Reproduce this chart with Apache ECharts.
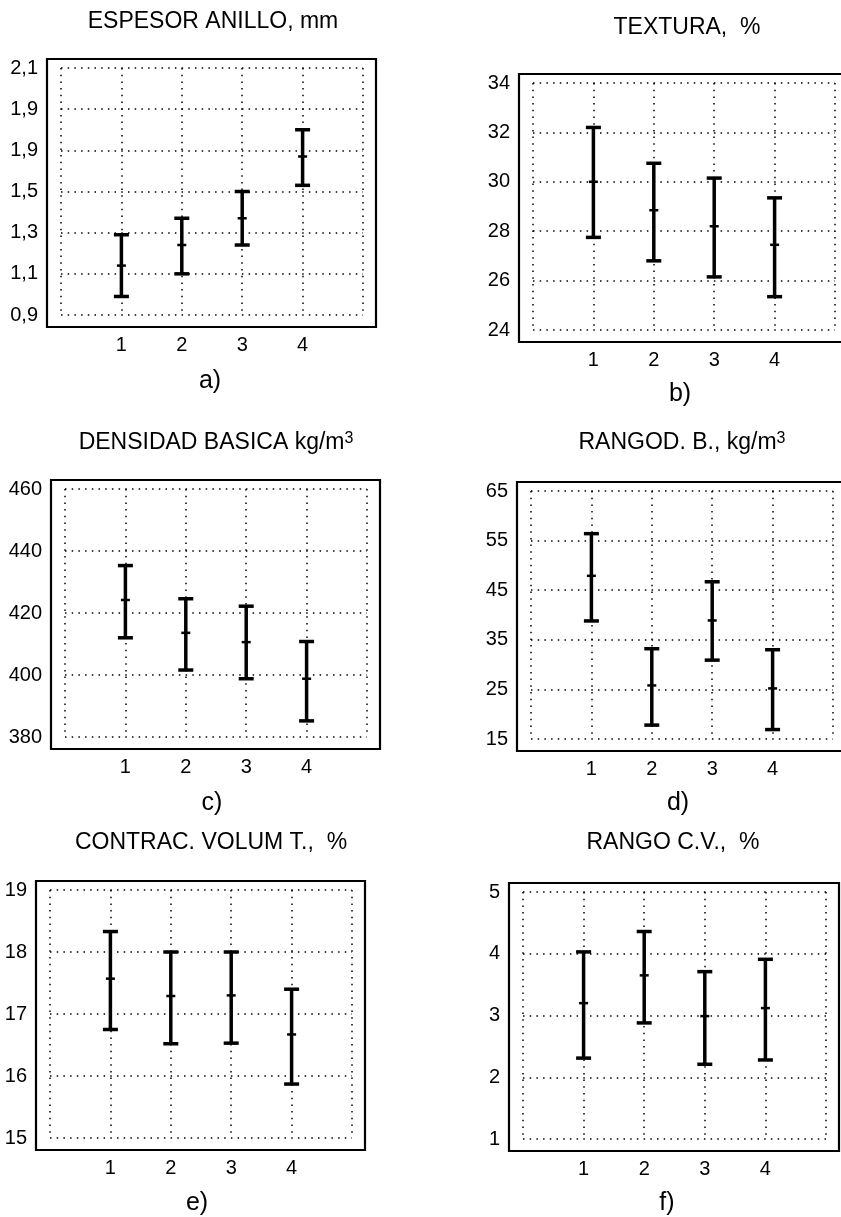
<!DOCTYPE html>
<html>
<head>
<meta charset="utf-8">
<title>Anillos y densidad</title>
<script src="https://cdn.jsdelivr.net/npm/echarts@6/dist/echarts.min.js"></script>
<style>
  html, body { margin: 0; padding: 0; background: #fff; }
  #chart { width: 841px; height: 1217px; }
</style>
</head>
<body>
<div id="chart"></div>
<script>
// categorias (eje x) y etiquetas
const categories = [1, 2, 3, 4]
const xLabels = ['1', '2', '3', '4']

// a) espesor anillo, mm  (limite inferior, media, limite superior)
const espesorLow = [0.99, 1.10, 1.24, 1.53]
const espesorMean = [1.14, 1.24, 1.37, 1.67]
const espesorHigh = [1.29, 1.37, 1.50, 1.80]
const espesorTicks = ['0,9', '1,1', '1,3', '1,5', '1,9', '1,9', '2,1'] // tal cual impreso

// b) textura, %
const texturaLow = [27.75, 26.8, 26.15, 25.35]
const texturaMean = [30.0, 28.85, 28.2, 27.45]
const texturaHigh = [32.2, 30.75, 30.15, 29.35]
const texturaTicks = ['24', '26', '28', '30', '32', '34']

// c) densidad basica kg/m3
const densidadLow = [412.0, 401.6, 398.8, 385.2]
const densidadMean = [424.2, 413.6, 410.6, 398.8]
const densidadHigh = [435.3, 424.6, 422.2, 410.8]
const densidadTicks = ['380', '400', '420', '440', '460']

// d) rango densidad basica kg/m3
const rangoDLow = [38.8, 17.8, 30.9, 16.9]
const rangoDMean = [47.9, 25.8, 38.9, 25.2]
const rangoDHigh = [56.4, 33.2, 46.7, 33.0]
const rangoDTicks = ['15', '25', '35', '45', '55', '65']

// e) contraccion volumetrica total, %
const contracLow = [16.75, 16.52, 16.53, 15.87]
const contracMean = [17.57, 17.29, 17.30, 16.67]
const contracHigh = [18.33, 18.0, 18.0, 17.40]
const contracTicks = ['15', '16', '17', '18', '19']

// f) rango contraccion volumetrica, %
const rangoCVLow = [2.31, 2.88, 2.21, 2.28]
const rangoCVMean = [3.20, 3.65, 2.99, 3.12]
const rangoCVHigh = [4.03, 4.36, 3.71, 3.91]
const rangoCVTicks = ['1', '2', '3', '4', '5']

const FONT = '"Liberation Sans", Arial, Helvetica, sans-serif'

const panels = [
  { title: 'ESPESOR ANILLO, mm', sub: 'a)', low: espesorLow, mean: espesorMean, high: espesorHigh,
    ticks: espesorTicks, min: 0.9, interval: 0.2 },
  { title: 'TEXTURA,  %', sub: 'b)', low: texturaLow, mean: texturaMean, high: texturaHigh,
    ticks: texturaTicks, min: 24, interval: 2 },
  { title: 'DENSIDAD BASICA kg/m{sup|3}', sub: 'c)', low: densidadLow, mean: densidadMean, high: densidadHigh,
    ticks: densidadTicks, min: 380, interval: 20 },
  { title: 'RANGOD. B., kg/m{sup|3}', sub: 'd)', low: rangoDLow, mean: rangoDMean, high: rangoDHigh,
    ticks: rangoDTicks, min: 15, interval: 10 },
  { title: 'CONTRAC. VOLUM T.,  %', sub: 'e)', low: contracLow, mean: contracMean, high: contracHigh,
    ticks: contracTicks, min: 15, interval: 1 },
  { title: 'RANGO C.V.,  %', sub: 'f)', low: rangoCVLow, mean: rangoCVMean, high: rangoCVHigh,
    ticks: rangoCVTicks, min: 1, interval: 1 },
]

// posicion de cada grafico: area de datos, titulo y letra
const layout = [
  { grid: [61, 68, 302, 247], title: [213, 22], sub: [210, 381] },
  { grid: [533, 83, 302, 247], title: [687, 28], sub: [680, 394] },
  { grid: [65, 489, 302, 248], title: [216, 443], sub: [212, 803] },
  { grid: [531, 491, 302, 248], title: [682, 443], sub: [678, 803] },
  { grid: [50, 890, 302, 248], title: [211, 843], sub: [197, 1203] },
  { grid: [523, 892, 303, 247], title: [673, 843], sub: [667, 1203] },
]
// el marco sobresale de la zona de datos
const pad = { t: 9, r: 13, b: 12, l: 14 }

function errorBar(params, api) {
  const x = api.value(0)
  const lo = api.coord([x, api.value(1)])
  const mid = api.coord([x, api.value(2)])
  const hi = api.coord([x, api.value(3)])
  const st = { stroke: '#000', lineWidth: 3.5 }
  return {
    type: 'group',
    children: [
      { type: 'line', shape: { x1: lo[0], y1: lo[1], x2: hi[0], y2: hi[1] }, style: st },
      { type: 'line', shape: { x1: hi[0] - 7.5, y1: hi[1], x2: hi[0] + 7.5, y2: hi[1] }, style: st },
      { type: 'line', shape: { x1: lo[0] - 7.5, y1: lo[1], x2: lo[0] + 7.5, y2: lo[1] }, style: st },
      { type: 'line', shape: { x1: mid[0] - 4.5, y1: mid[1], x2: mid[0] + 4.5, y2: mid[1] },
        style: { stroke: '#000', lineWidth: 2.5 } },
    ],
  }
}

const gridLine = { show: true, lineStyle: { color: '#000', width: 1.5, type: [1.5, 5.2] } }

const grids = [], xAxes = [], yAxes = [], series = [], graphics = []
panels.forEach((p, i) => {
  const g = layout[i].grid
  grids.push({ left: g[0], top: g[1], width: g[2], height: g[3] })
  xAxes.push({
    gridIndex: i, type: 'value', min: 0, max: 5, interval: 1,
    axisLine: { show: false }, axisTick: { show: false },
    splitLine: gridLine,
    axisLabel: {
      margin: 20, fontSize: 20, color: '#000', fontFamily: FONT,
      formatter: v => (v >= 1 && v <= 4 ? xLabels[Math.round(v) - 1] : ''),
    },
  })
  const max = p.min + p.interval * (p.ticks.length - 1)
  yAxes.push({
    gridIndex: i, type: 'value', min: p.min, max: max, interval: p.interval,
    axisLine: { show: false }, axisTick: { show: false },
    splitLine: gridLine,
    axisLabel: {
      margin: 23, fontSize: 20, color: '#000', fontFamily: FONT,
      formatter: v => p.ticks[Math.round((v - p.min) / p.interval)] || '',
    },
  })
  series.push({
    type: 'custom', xAxisIndex: i, yAxisIndex: i, clip: false,
    renderItem: errorBar,
    encode: { x: 0, y: [1, 2, 3] },
    data: categories.map((c, k) => [c, p.low[k], p.mean[k], p.high[k]]),
  })
  // marco
  graphics.push({
    type: 'rect', silent: true,
    shape: { x: g[0] - pad.l, y: g[1] - pad.t, width: g[2] + pad.l + pad.r, height: g[3] + pad.t + pad.b },
    style: { fill: 'none', stroke: '#000', lineWidth: 2.2 },
  })
  graphics.push({
    type: 'text', x: layout[i].title[0], y: layout[i].title[1],
    style: {
      text: p.title, fontSize: 23, fontFamily: FONT, fill: '#000',
      align: 'center', verticalAlign: 'middle', textAlign: 'center', textVerticalAlign: 'middle',
      rich: { sup: { fontSize: 16, fontFamily: FONT, fill: '#000', verticalAlign: 'top', padding: [0, 0, 9, 0] } },
    },
  })
  graphics.push({
    type: 'text', x: layout[i].sub[0], y: layout[i].sub[1],
    style: {
      text: p.sub, fontSize: 25, fontFamily: FONT, fill: '#000',
      align: 'center', verticalAlign: 'middle', textAlign: 'center', textVerticalAlign: 'middle',
    },
  })
})

const chart = echarts.init(document.getElementById('chart'))
chart.setOption({
  backgroundColor: '#fff',
  animation: false,
  grid: grids,
  xAxis: xAxes,
  yAxis: yAxes,
  series: series,
  graphic: { elements: graphics },
})
</script>
</body>
</html>
